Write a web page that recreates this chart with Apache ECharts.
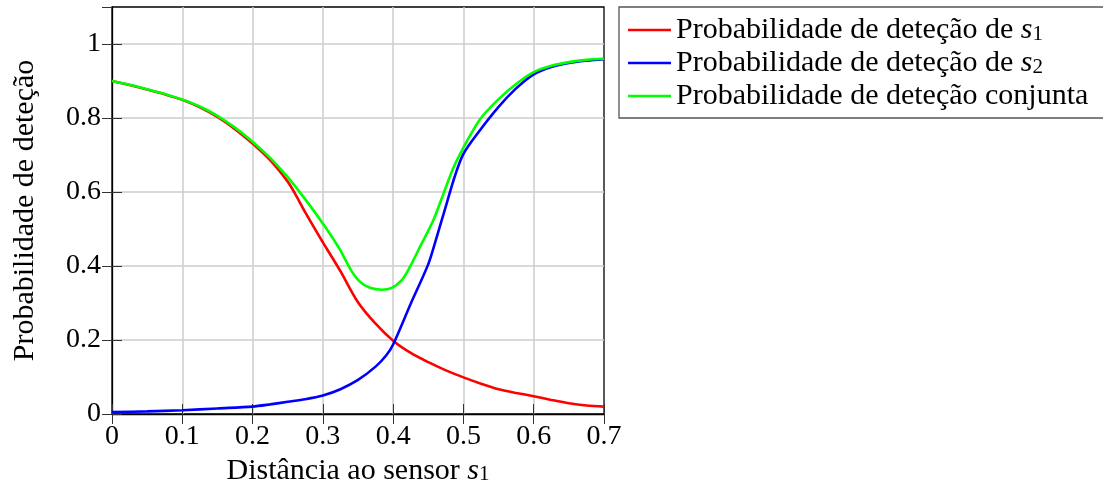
<!DOCTYPE html>
<html>
<head>
<meta charset="utf-8">
<script src="https://cdn.jsdelivr.net/npm/echarts@6/dist/echarts.min.js"></script>
<style>
  html, body { margin: 0; padding: 0; background: #ffffff; }
  #chart { width: 1103px; height: 488px; }
</style>
</head>
<body>
<div id="chart"></div>
<script>
// Detection probability of sensor s1 versus distance to s1
const distS1 = [0, 0.025, 0.05, 0.075, 0.1, 0.125, 0.15, 0.175, 0.2, 0.225, 0.25, 0.26, 0.275, 0.3,
  0.31, 0.325, 0.35, 0.375, 0.4, 0.425, 0.45, 0.475, 0.5, 0.525, 0.55, 0.575, 0.6, 0.625, 0.65, 0.675, 0.7];
const probS1 = [0.900, 0.889, 0.877, 0.864, 0.849, 0.829, 0.803, 0.770, 0.731, 0.686, 0.628, 0.597, 0.545, 0.464,
  0.433, 0.386, 0.302, 0.244, 0.198, 0.165, 0.140, 0.118, 0.099, 0.082, 0.067, 0.057, 0.048, 0.038, 0.029, 0.023, 0.020];

// Detection probability of sensor s2
const distS2 = [0, 0.05, 0.1, 0.15, 0.2, 0.225, 0.25, 0.275, 0.3, 0.325, 0.35, 0.375, 0.39, 0.4,
  0.425, 0.45, 0.462, 0.476, 0.488, 0.5, 0.52, 0.55, 0.575, 0.6, 0.625, 0.65, 0.675, 0.7];
const probS2 = [0.005, 0.007, 0.010, 0.015, 0.020, 0.026, 0.033, 0.040, 0.050, 0.067, 0.092, 0.128, 0.158, 0.188,
  0.298, 0.405, 0.478, 0.568, 0.644, 0.703, 0.758, 0.830, 0.880, 0.918, 0.938, 0.949, 0.955, 0.959];

// Joint detection probability
const distJoint = [0, 0.025, 0.05, 0.075, 0.1, 0.125, 0.15, 0.175, 0.2, 0.225, 0.25, 0.275, 0.3, 0.31,
  0.325, 0.34, 0.353, 0.367, 0.384, 0.398, 0.412, 0.424, 0.438, 0.457, 0.4715, 0.486, 0.5, 0.512, 0.525,
  0.55, 0.575, 0.6, 0.625, 0.65, 0.675, 0.7];
const probJoint = [0.900, 0.890, 0.878, 0.865, 0.850, 0.831, 0.806, 0.774, 0.736, 0.692, 0.640, 0.580, 0.515, 0.487,
  0.442, 0.389, 0.357, 0.341, 0.336, 0.341, 0.361, 0.398, 0.451, 0.523, 0.595, 0.667, 0.720, 0.761, 0.800,
  0.851, 0.892, 0.924, 0.941, 0.951, 0.957, 0.960];

const seriesNames = [
  'Probabilidade de deteção de s1',
  'Probabilidade de deteção de s2',
  'Probabilidade de deteção conjunta'
];
const seriesColors = ['#ff0000', '#0000ff', '#00ff00'];
const legendRich = {
  [seriesNames[0]]: '{t|Probabilidade de deteção de }{i|s}{sub|1}',
  [seriesNames[1]]: '{t|Probabilidade de deteção de }{i|s}{sub|2}',
  [seriesNames[2]]: '{t|Probabilidade de deteção conjunta}'
};
const xTitle = '{t|Distância ao sensor }{i|s}{sub|1}';
const yTitle = 'Probabilidade de deteção';

const FONT = '"Liberation Serif", "Times New Roman", serif';
const richStyles = {
  t: { fontFamily: FONT, fontSize: 30, lineHeight: 29, color: '#000' },
  i: { fontFamily: FONT, fontSize: 30, lineHeight: 29, fontStyle: 'italic', color: '#000' },
  sub: { fontFamily: FONT, fontSize: 21, lineHeight: 14, verticalAlign: 'bottom', color: '#000' }
};

const zip = (xs, ys) => xs.map((x, i) => [x, ys[i]]);
const fmt = v => String(Number(v.toFixed(2)));

const tickStyle = { show: true, inside: true, length: 10, lineStyle: { color: '#333', width: 1 } };
const gridLine = { show: true, showMinLine: false, showMaxLine: false, lineStyle: { color: '#cdcdcd', width: 1.5 } };

const chart = echarts.init(document.getElementById('chart'), null, { renderer: 'canvas' });
chart.setOption({
  animation: false,
  backgroundColor: '#ffffff',
  grid: {
    left: 112, right: 499, top: 7, bottom: 74,
    outerBoundsMode: 'none',
    show: true, borderColor: '#000', borderWidth: 1.3, backgroundColor: 'transparent'
  },
  legend: {
    left: 619, top: 7,
    orient: 'vertical',
    icon: 'rect',
    itemWidth: 43, itemHeight: 2.6, itemGap: 3,
    padding: [8, 40, 7, 9],
    borderColor: '#555', borderWidth: 1.3,
    backgroundColor: '#fff',
    formatter: name => legendRich[name],
    textStyle: { rich: richStyles, lineHeight: 29 },
    data: seriesNames.map((n, i) => ({ name: n, itemStyle: { color: seriesColors[i] } }))
  },
  xAxis: [{
    type: 'value', min: 0, max: 0.7, interval: 0.1,
    name: xTitle, nameLocation: 'middle', nameGap: 40,
    nameTextStyle: { rich: richStyles },
    axisLine: { show: true, lineStyle: { color: '#000', width: 1.3 } },
    axisTick: tickStyle,
    axisLabel: { formatter: fmt, margin: 9, fontFamily: FONT, fontSize: 28, color: '#000' },
    splitLine: gridLine
  }, {
    type: 'value', min: 0, max: 0.7, interval: 0.1, position: 'top',
    axisLine: { show: false }, axisTick: tickStyle, axisLabel: { show: false }, splitLine: { show: false }
  }],
  yAxis: [{
    type: 'value', min: 0, max: 1.1, interval: 0.2,
    name: yTitle, nameLocation: 'middle', nameGap: 72, nameRotate: 90,
    nameTextStyle: { fontFamily: FONT, fontSize: 30, color: '#000' },
    axisLine: { show: true, lineStyle: { color: '#000', width: 1.3 } },
    axisTick: tickStyle,
    axisLabel: { formatter: fmt, showMaxLabel: false, margin: 11, fontFamily: FONT, fontSize: 28, color: '#000' },
    splitLine: gridLine
  }, {
    type: 'value', min: 0, max: 1.1, interval: 0.2, position: 'right',
    axisLine: { show: false }, axisTick: tickStyle, axisLabel: { show: false }, splitLine: { show: false }
  }],
  series: [
    { name: seriesNames[0], type: 'line', data: zip(distS1, probS1), showSymbol: false, symbol: 'none',
      smooth: 0.3, lineStyle: { color: seriesColors[0], width: 2.6 }, itemStyle: { color: seriesColors[0] } },
    { name: seriesNames[1], type: 'line', data: zip(distS2, probS2), showSymbol: false, symbol: 'none',
      smooth: 0.3, lineStyle: { color: seriesColors[1], width: 2.6 }, itemStyle: { color: seriesColors[1] } },
    { name: seriesNames[2], type: 'line', data: zip(distJoint, probJoint), showSymbol: false, symbol: 'none',
      smooth: 0.3, lineStyle: { color: seriesColors[2], width: 2.6 }, itemStyle: { color: seriesColors[2] } }
  ]
});
</script>
</body>
</html>
